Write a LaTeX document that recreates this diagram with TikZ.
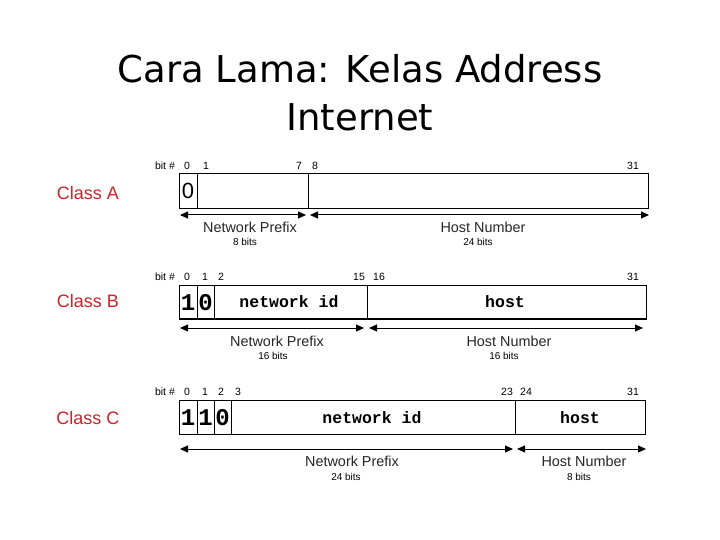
\documentclass[tikz,border=0pt]{standalone}
\usepackage{fontspec}
\setmainfont{Liberation Sans}
\newfontfamily\monob{Liberation Mono}
\newfontfamily\titlef{DejaVu Sans}
\usetikzlibrary{arrows.meta}
\definecolor{clsred}{HTML}{CC2229}
\tikzset{
  box/.style={draw=black, line width=1pt},
  divider/.style={draw=black, line width=0.9pt},
  dim/.style={draw=black, line width=1pt, {Triangle[length=8pt,width=7pt]}-{Triangle[length=8pt,width=7pt]}},
  bitlbl/.style={font=\fontsize{10.5}{11}\selectfont, inner sep=0pt},
  clslbl/.style={font=\fontsize{18}{20}\selectfont, text=clsred, inner sep=0pt},
  fieldlbl/.style={font=\fontsize{14.4}{15}\selectfont, text=black!85, inner sep=0pt},
  sizelbl/.style={font=\fontsize{10}{11}\selectfont, inner sep=0pt},
  monotext/.style={font=\monob\bfseries\fontsize{16.5}{17}\selectfont, inner sep=0pt},
  bigbit/.style={font=\monob\bfseries\fontsize{24}{24}\selectfont, inner sep=0pt},
  titletext/.style={font=\titlef\fontsize{37}{40}\selectfont, inner sep=0pt}
}
\begin{document}
\begin{tikzpicture}[x=1pt,y=-1pt]
\path[use as bounding box, fill=white] (0,0) rectangle (720,540);

% Title
\node[titletext] (t1) at (360,69) {Cara Lama: Kelas Address};
\node[titletext] (t2) at (360,117) {Internet};

% ---------- Class A ----------
\node[clslbl] (ca) at (88,193) {Class A};
\node[bitlbl] (abit) at (165,166) {bit \#};
\node[bitlbl] (a0) at (187,166) {0};
\node[bitlbl] (a1) at (206,166) {1};
\node[bitlbl] (a7) at (299,166) {7};
\node[bitlbl] (a8) at (315,166) {8};
\node[bitlbl] (a31) at (633,166) {31};
\draw[box] (179,174) rectangle (648,209);
\draw[divider] (197,174) -- (197,209);
\draw[divider] (308,174) -- (308,209);
\node[font=\fontsize{22}{22}\selectfont, inner sep=0pt] (abit0) at (188,191) {0};
\coordinate (anl) at (180,215);
\coordinate (anr) at (306,215);
\coordinate (ahl) at (310,215);
\coordinate (ahr) at (649,215);
\draw[dim] (anl) -- (anr);
\draw[dim] (ahl) -- (ahr);
\node[fieldlbl] (anp) at (250,227) {Network Prefix};
\node[sizelbl] (anb) at (245,242) {8 bits};
\node[fieldlbl] (ahn) at (483,227) {Host Number};
\node[sizelbl] (ahb) at (478,242) {24 bits};

% ---------- Class B ----------
\node[clslbl] (cb) at (88,301) {Class B};
\node[bitlbl] (bbit) at (165,277) {bit \#};
\node[bitlbl] (b0) at (187,277) {0};
\node[bitlbl] (b1) at (205,277) {1};
\node[bitlbl] (b2) at (221,277) {2};
\node[bitlbl] (b15) at (359,277) {15};
\node[bitlbl] (b16) at (379,277) {16};
\node[bitlbl] (b31) at (633,277) {31};
\draw[box] (179,285) rectangle (646,319);
\draw[line width=2pt] (179,319) -- (646,319);
\draw[divider] (197,285) -- (197,319);
\draw[divider] (214,285) -- (214,319);
\draw[divider] (367,285) -- (367,319);
\node[bigbit] (bb1) at (188,302.5) {1};
\node[bigbit] (bb0) at (205.5,302.5) {0};
\node[monotext] (bnid) at (289,302) {network id};
\node[monotext] (bhost) at (505,302) {host};
\coordinate (bnl) at (180,328);
\coordinate (bnr) at (364,328);
\coordinate (bhl) at (369,328);
\coordinate (bhr) at (643,328);
\draw[dim] (bnl) -- (bnr);
\draw[dim] (bhl) -- (bhr);
\node[fieldlbl] (bnp) at (277,341) {Network Prefix};
\node[sizelbl] (bnb) at (273,356) {16 bits};
\node[fieldlbl] (bhn) at (509,341) {Host Number};
\node[sizelbl] (bhb) at (504,356) {16 bits};

% ---------- Class C ----------
\node[clslbl] (cc) at (88,418) {Class C};
\node[bitlbl] (cbit) at (165,392) {bit \#};
\node[bitlbl] (c0) at (187,392) {0};
\node[bitlbl] (c1) at (205,392) {1};
\node[bitlbl] (c2) at (221,392) {2};
\node[bitlbl] (c3) at (238,392) {3};
\node[bitlbl] (c23) at (507,392) {23};
\node[bitlbl] (c24) at (526,392) {24};
\node[bitlbl] (c31) at (633,392) {31};
\draw[box] (179,400) rectangle (645,434);
\draw[divider] (197,400) -- (197,434);
\draw[divider] (214,400) -- (214,434);
\draw[divider] (231,400) -- (231,434);
\draw[divider] (515,400) -- (515,434);
\node[bigbit] (cb1) at (188,417.5) {1};
\node[bigbit] (cb2) at (205.5,417.5) {1};
\node[bigbit] (cb3) at (222.5,417.5) {0};
\node[monotext] (cnid) at (372,418) {network id};
\node[monotext] (chost) at (580,418) {host};
\coordinate (cnl) at (180,449);
\coordinate (cnr) at (513,449);
\coordinate (chl) at (517,449);
\coordinate (chr) at (646,449);
\draw[dim] (cnl) -- (cnr);
\draw[dim] (chl) -- (chr);
\node[fieldlbl] (cnp) at (352,461) {Network Prefix};
\node[sizelbl] (cnb) at (346,477) {24 bits};
\node[fieldlbl] (chn) at (584,461) {Host Number};
\node[sizelbl] (chb) at (579,477) {8 bits};
\end{tikzpicture}
\end{document}
